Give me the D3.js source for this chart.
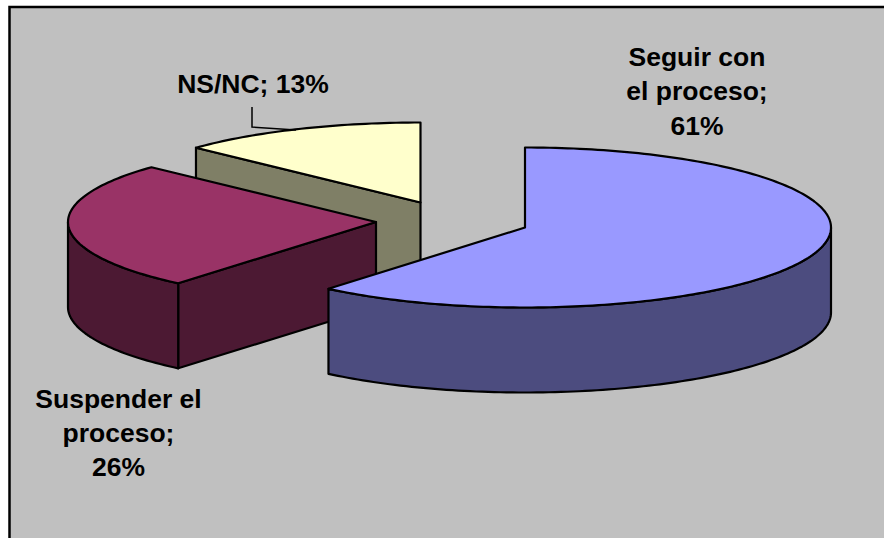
<!DOCTYPE html>
<html><head><meta charset="utf-8">
<script src="https://cdn.jsdelivr.net/npm/d3@7"></script>
<style>html,body{margin:0;padding:0;background:#fff}svg{display:block}</style>
</head><body><svg id="c" width="884" height="538"></svg>
<script>
const categories = ["Seguir con el proceso", "Suspender el proceso", "NS/NC"];
const values = [61.1, 25.9, 13];
const topColors = ["#9999FF", "#993366", "#FFFFCC"];
const sideColors = ["#4C4C7F", "#4C1933", "#7F7F66"];
const labelLines = [["Seguir con", "el proceso;", "61%"], ["Suspender el", "proceso;", "26%"], ["NS/NC; 13%"]];
const centers = [[525, 227.5], [376, 222], [420.5, 202.5]];
const radiiX = [306, 308, 308];
const labelAnchors = [[697, 65.5, 34.5], [118.5, 408, 34], [253, 93, 34]];

const svg = d3.select("#c");
const W = 884, H = 538, ry = 80, depth = 85;

svg.append("rect").attr("width", W).attr("height", H).attr("fill", "#fff");
svg.append("rect").attr("x", 9.5).attr("y", 7).attr("width", W + 10).attr("height", H + 10)
  .attr("fill", "#C0C0C0").attr("stroke", "#000").attr("stroke-width", 2.5);

const pie = d3.pie().sort(null).value(d => d);
const arcs = pie(values);
const samples = (a0, a1) => {
  const n = Math.max(2, Math.ceil((a1 - a0) / 0.02));
  return d3.range(n + 1).map(i => a0 + (a1 - a0) * i / n);
};
const line = d3.line();
const stroke = sel => sel.attr("stroke", "#000").attr("stroke-width", 2.2).attr("stroke-linejoin", "round");

// back to front
[2, 1, 0].forEach(i => {
  const c = centers[i], a0 = arcs[i].startAngle, a1 = arcs[i].endAngle, rx = radiiX[i];
  const pt = (a, dz = 0) => [c[0] + rx * Math.sin(a), c[1] - ry * Math.cos(a) + dz];
  const g = svg.append("g");
  // start cut face (visible when it points towards the viewer)
  if (a0 > Math.PI) {
    g.append("path").attr("d", line([c, pt(a0), pt(a0, depth), [c[0], c[1] + depth]]) + "Z")
      .attr("fill", sideColors[i]).call(stroke);
  }
  // outer wall, on the front half only
  const w0 = Math.max(a0, Math.PI / 2), w1 = Math.min(a1, 1.5 * Math.PI);
  if (w1 > w0) {
    const s = samples(w0, w1);
    const pts = s.map(a => pt(a)).concat(s.slice().reverse().map(a => pt(a, depth)));
    g.append("path").attr("d", line(pts) + "Z").attr("fill", sideColors[i]).call(stroke);
  }
  // top
  const tp = [c].concat(samples(a0, a1).map(a => pt(a)));
  g.append("path").attr("d", line(tp) + "Z").attr("fill", topColors[i]).call(stroke);
});

// leader line of the NS/NC label
svg.append("path").attr("d", line([[252, 107], [252, 127], [296, 130]]))
  .attr("fill", "none").attr("stroke", "#000").attr("stroke-width", 1.5);

labelLines.forEach((lines, i) => {
  const [x, y, dy] = labelAnchors[i];
  lines.forEach((t, j) => {
    svg.append("text").attr("x", x).attr("y", y + j * dy).attr("text-anchor", "middle")
      .attr("font-family", "'Liberation Sans', Arial, sans-serif").attr("font-weight", "bold")
      .attr("font-size", 26.5).attr("fill", "#000").text(t);
  });
});
</script></body></html>
